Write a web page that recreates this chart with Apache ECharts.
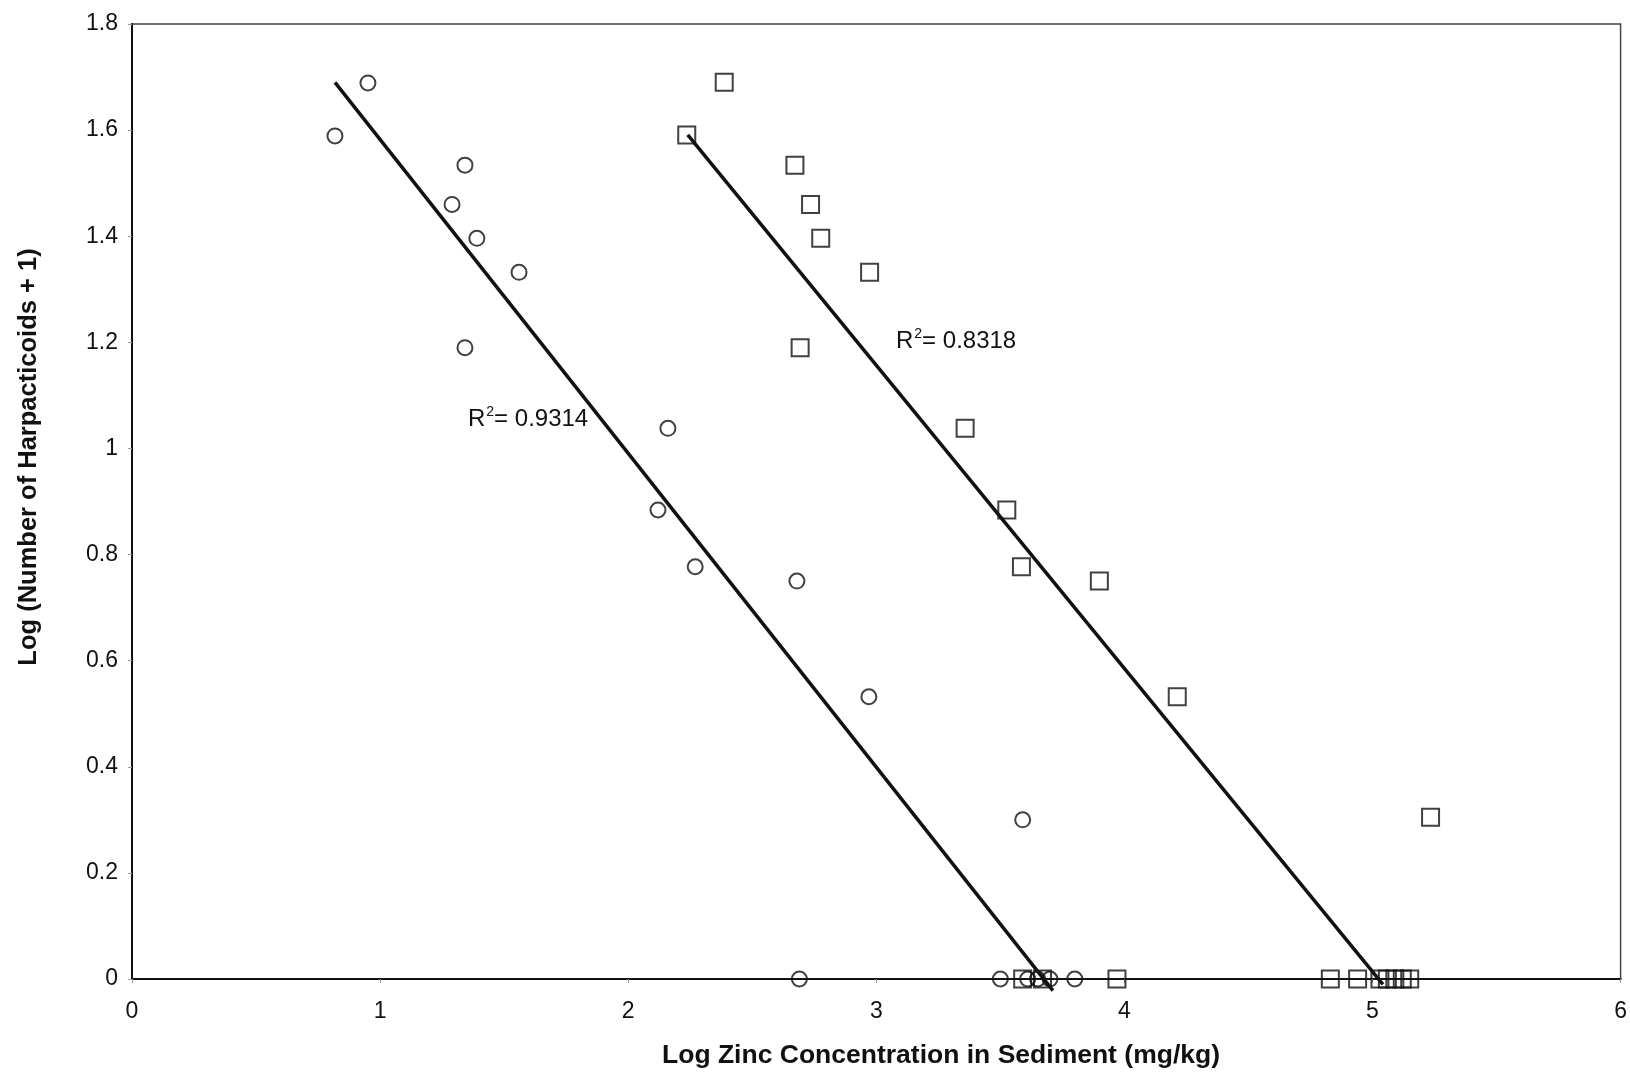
<!DOCTYPE html>
<html>
<head>
<meta charset="utf-8">
<script src="https://cdn.jsdelivr.net/npm/echarts@6/dist/echarts.min.js"></script>
<style>
  html, body { margin: 0; padding: 0; background: #fff; }
  #chart { width: 1630px; height: 1075px; }
</style>
</head>
<body>
<div id="chart"></div>
<script>
// circles: first zinc measure
const circleX = [0.818, 0.951, 1.342, 1.29, 1.39, 1.56, 1.342, 2.16, 2.12, 2.27, 2.68, 2.97, 3.59,
  2.69, 3.50, 3.61, 3.65, 3.70, 3.80];
const circleY = [1.589, 1.689, 1.534, 1.46, 1.396, 1.332, 1.19, 1.038, 0.884, 0.777, 0.75, 0.532, 0.30,
  0, 0, 0, 0, 0, 0];

// squares: second zinc measure
const squareX = [2.387, 2.236, 2.672, 2.735, 2.776, 2.973, 2.693, 3.358, 3.526, 3.585, 3.899, 4.213, 5.234,
  3.59, 3.67, 3.97, 4.83, 4.94, 5.03, 5.06, 5.09, 5.12, 5.15];
const squareY = [1.69, 1.591, 1.534, 1.46, 1.396, 1.332, 1.19, 1.038, 0.884, 0.777, 0.75, 0.532, 0.305,
  0, 0, 0, 0, 0, 0, 0, 0, 0, 0];

// fitted trend lines (end points)
const circleFit = [[0.818, 1.69], [3.712, -0.022]];
const squareFit = [[2.24, 1.591], [5.042, -0.01]];

const xTicks = [0, 1, 2, 3, 4, 5, 6];
const yTicks = [0, 0.2, 0.4, 0.6, 0.8, 1, 1.2, 1.4, 1.6, 1.8];
const r2Labels = ["0.9314", "0.8318"];

const pair = (xs, ys) => xs.map((x, i) => [x, ys[i]]);

const chart = echarts.init(document.getElementById("chart"), null, { renderer: "canvas" });
const font = "'Liberation Sans', Arial, sans-serif";

const r2Text = (val) => ({
  text: "{r|R}{s|2}{r|= " + val + "}",
  rich: {
    r: { fontFamily: font, fontSize: 24, fill: "#111", verticalAlign: "bottom" },
    s: { fontFamily: font, fontSize: 14, fill: "#111", verticalAlign: "top", padding: [0, 0, 12, 1] }
  }
});

chart.setOption({
  animation: false,
  backgroundColor: "#fff",
  grid: {
    left: 132, right: 9, top: 24, bottom: 96,
    show: true, borderColor: "#444", borderWidth: 1.5, backgroundColor: "transparent"
  },
  xAxis: {
    type: "value",
    min: xTicks[0], max: xTicks[xTicks.length - 1], interval: 1,
    axisLine: { show: true, onZero: false, lineStyle: { color: "#111", width: 2 } },
    axisTick: { show: true, length: 4, lineStyle: { color: "#999" } },
    splitLine: { show: false },
    axisLabel: { fontFamily: font, fontSize: 23, color: "#111", margin: 21 }
  },
  yAxis: {
    type: "value",
    min: yTicks[0], max: yTicks[yTicks.length - 1], interval: 0.2,
    axisLine: { show: true, onZero: false, lineStyle: { color: "#111", width: 2 } },
    axisTick: { show: true, length: 4, lineStyle: { color: "#999" } },
    splitLine: { show: false },
    axisLabel: { fontFamily: font, fontSize: 23, color: "#111", margin: 14,
      formatter: (v) => String(Math.round(v * 10) / 10) }
  },
  series: [
    {
      type: "line", data: circleFit, clip: false, showSymbol: false, silent: true,
      lineStyle: { color: "#111", width: 3.5 }, z: 3
    },
    {
      type: "line", data: squareFit, clip: false, showSymbol: false, silent: true,
      lineStyle: { color: "#111", width: 3.5 }, z: 3
    },
    {
      type: "scatter", data: pair(circleX, circleY), symbol: "circle", symbolSize: 15,
      itemStyle: { color: "rgba(255,255,255,0)", borderColor: "#111", borderWidth: 2 }, z: 4
    },
    {
      type: "scatter", data: pair(squareX, squareY), symbol: "rect", symbolSize: 17,
      itemStyle: { color: "rgba(255,255,255,0)", borderColor: "#111", borderWidth: 2 }, z: 4
    }
  ],
  graphic: [
    { type: "text", left: 468, top: 405, style: r2Text(r2Labels[0]) },
    { type: "text", left: 896, top: 327, style: r2Text(r2Labels[1]) },
    {
      type: "text", x: 941, y: 1056,
      style: { text: "Log Zinc Concentration in Sediment (mg/kg)", fontFamily: font,
        fontSize: 26.5, fontWeight: "bold", fill: "#111", align: "center", verticalAlign: "middle" }
    },
    {
      type: "text", x: 29, y: 457, rotation: Math.PI / 2,
      style: { text: "Log (Number of Harpacticoids + 1)", fontFamily: font,
        fontSize: 25.5, fontWeight: "bold", fill: "#111", align: "center", verticalAlign: "middle" }
    }
  ]
});
</script>
</body>
</html>
